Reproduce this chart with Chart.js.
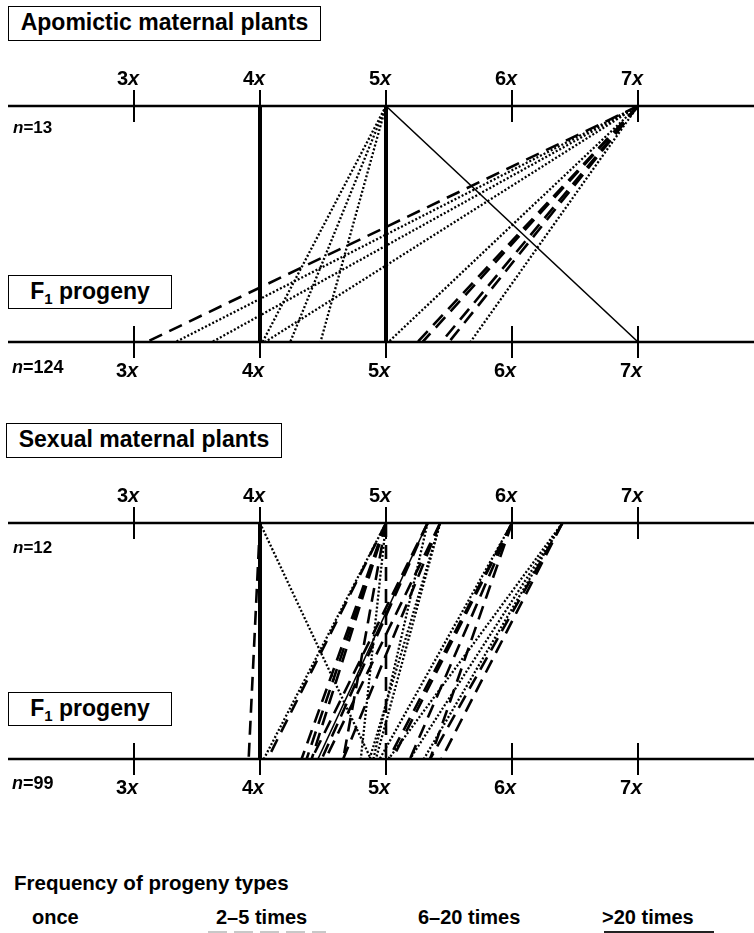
<!DOCTYPE html>
<html><head><meta charset="utf-8">
<script src="https://cdn.jsdelivr.net/npm/chart.js@4/dist/chart.umd.min.js"></script>
<style>
html,body{margin:0;padding:0;background:#fff;}
#page{position:relative;width:754px;height:933px;overflow:hidden;background:#fff;font-family:"Liberation Sans",Arial,sans-serif;font-weight:bold;color:#000;}
.cw{position:absolute;left:0;width:754px;height:400px;}
.box{position:absolute;border:1.5px solid #000;box-sizing:border-box;background:#fff;font-size:23px;line-height:30px;text-align:center;white-space:nowrap;}
.t{position:absolute;white-space:nowrap;line-height:20px;}
sub{font-size:15px;line-height:0;vertical-align:-5px;}
</style></head>
<body><div id="page">
<div class="cw" style="top:0px;"><canvas id="c1" width="754" height="400"></canvas></div>
<div class="cw" style="top:417px;"><canvas id="c2" width="754" height="400"></canvas></div>

<div class="box" style="left:8px;top:6px;width:313px;height:35px;">Apomictic maternal plants</div>
<div class="box" style="left:8px;top:275px;width:164px;height:34px;">F<sub>1</sub> progeny</div>
<div class="box" style="left:6px;top:423px;width:276px;height:35px;">Sexual maternal plants</div>
<div class="box" style="left:8px;top:692px;width:164px;height:34px;">F<sub>1</sub> progeny</div>

<div class="t" style="left:13px;top:118px;font-size:17px;"><i>n</i>=13</div>
<div class="t" style="left:12px;top:357px;font-size:18px;"><i>n</i>=124</div>
<div class="t" style="left:13px;top:538px;font-size:17px;"><i>n</i>=12</div>
<div class="t" style="left:12px;top:773px;font-size:18px;"><i>n</i>=99</div>

<div class="t" style="left:14px;top:873px;font-size:20.5px;">Frequency of progeny types</div>
<div class="t" style="left:32px;top:907px;font-size:20px;">once</div>
<div class="t" style="left:216px;top:907px;font-size:20px;">2–5 times</div>
<div class="t" style="left:418px;top:907px;font-size:20px;">6–20 times</div>
<div class="t" style="left:602px;top:907px;font-size:20px;">&gt;20 times</div>
<div style="position:absolute;left:208px;top:931px;width:118px;height:2px;background:repeating-linear-gradient(to right,#c8c8c8 0 19px,transparent 19px 26px);"></div>
<div style="position:absolute;left:604px;top:931px;width:110px;height:2px;background:#222;"></div>
</div>
<script>
// ---- data ----
const ploidyTicks = [3, 4, 5, 6, 7];
const tickLabels = ['3x', '4x', '5x', '6x', '7x'];

// Apomictic maternal plants -> F1 progeny
const apoMaternal = [4, 5, 5, 5, 5, 5, 7, 7, 7, 7, 7, 7, 7, 7, 7, 7];
const apoProgeny  = [4, 5, 7, 4.02, 4.24, 4.48, 3.10, 3.33, 3.62, 4.04, 5.02, 5.25, 5.29, 5.44, 5.50, 5.67];
const apoFrequency = ['>20', '>20', '6–20', 'once', 'once', 'once', '2–5', 'once', 'once', 'once', 'once', '2–5', '2–5', '2–5', '2–5', 'once'];

// Sexual maternal plants -> F1 progeny
const sexMaternal = [4, 4, 4, 5, 5, 5, 5, 5, 5, 5, 5, 5.33, 5.33, 5.33, 5.33, 5.43, 5.43, 5.43, 5.43, 6, 6, 6, 6, 6, 6.4, 6.4, 6.4, 6.4, 6.4];
const sexProgeny  = [4, 3.91, 4.88, 5, 4.03, 4.06, 4.33, 4.37, 4.41, 4.66, 4.80, 4.46, 4.41, 4.49, 4.90, 4.52, 4.66, 4.92, 4.87, 5.02, 5.05, 5.19, 5.35, 4.95, 5.02, 5.19, 5.30, 5.35, 5.44];
const sexFrequency = ['>20', '2–5', 'once', '2–5', 'once', '2–5', '2–5', '2–5', '2–5', '2–5', 'once', '6–20', '2–5', '2–5', 'once', '2–5', '2–5', 'once', 'once', '2–5', '2–5', '2–5', '2–5', 'once', 'once', 'once', 'once', '2–5', '2–5'];

// ---- styles ----
const freqStyle = {
  'once': { borderWidth: 2.3, borderDash: [2, 2], order: 3 },
  '2–5':  { borderWidth: 2.6, borderDash: [14, 8], order: 2 },
  '6–20': { borderWidth: 1.6, borderDash: [], order: 1 },
  '>20':  { borderWidth: 4, borderDash: [], order: 0 }
};

function makeDatasets(mat, prog, freq) {
  return mat.map((m, i) => {
    const s = freqStyle[freq[i]];
    return {
      label: freq[i],
      data: [{ x: m, y: 1 }, { x: prog[i], y: 0 }],
      showLine: true,
      borderColor: '#000',
      backgroundColor: '#000',
      borderWidth: s.borderWidth,
      borderDash: s.borderDash,
      borderCapStyle: 'butt',
      pointRadius: 0,
      pointHoverRadius: 0,
      fill: false,
      tension: 0,
      clip: false,
      order: s.order
    };
  });
}

function drawLabel(ctx, label, cx, cy) {
  const num = label.slice(0, -1), v = label.slice(-1);
  const f1 = 'bold 20px "Liberation Sans", Arial, sans-serif';
  const f2 = 'italic bold 20px "Liberation Sans", Arial, sans-serif';
  ctx.font = f1; const w1 = ctx.measureText(num).width;
  ctx.font = f2; const w2 = ctx.measureText(v).width;
  const x0 = cx - (w1 + w2) / 2;
  ctx.textBaseline = 'middle';
  ctx.textAlign = 'left';
  ctx.fillStyle = '#000';
  ctx.font = f1; ctx.fillText(num, x0, cy);
  ctx.font = f2; ctx.fillText(v, x0 + w1, cy);
}

const axisPlugin = {
  id: 'ploidyAxes',
  afterDatasetsDraw(chart) {
    const { ctx } = chart;
    const xs = chart.scales.x, ys = chart.scales.y;
    const yTop = ys.getPixelForValue(1), yBot = ys.getPixelForValue(0);
    ctx.save();
    ctx.strokeStyle = '#000';
    ctx.setLineDash([]);
    ctx.lineWidth = 2.6;
    [yTop, yBot].forEach(y => {
      ctx.beginPath(); ctx.moveTo(xs.left, y); ctx.lineTo(chart.width, y); ctx.stroke();
    });
    ctx.lineWidth = 2;
    ploidyTicks.forEach((t, i) => {
      const px = xs.getPixelForValue(t);
      [yTop, yBot].forEach(y => {
        ctx.beginPath(); ctx.moveTo(px, y - 16); ctx.lineTo(px, y + 16); ctx.stroke();
      });
      drawLabel(ctx, tickLabels[i], px - 6, yTop - 27);
      drawLabel(ctx, tickLabels[i], px - 7, yBot + 29);
    });
    ctx.restore();
  }
};

function makeChart(id, mat, prog, freq) {
  return new Chart(document.getElementById(id), {
    type: 'scatter',
    data: { datasets: makeDatasets(mat, prog, freq) },
    options: {
      responsive: false,
      animation: false,
      devicePixelRatio: 1,
      layout: { padding: { left: 8, right: 0, top: 106, bottom: 58 } },
      scales: {
        x: { type: 'linear', min: 2, max: 7.9206, display: false },
        y: { type: 'linear', min: 0, max: 1, display: false }
      },
      plugins: { legend: { display: false }, tooltip: { enabled: false } },
      events: []
    },
    plugins: [axisPlugin]
  });
}

makeChart('c1', apoMaternal, apoProgeny, apoFrequency);
makeChart('c2', sexMaternal, sexProgeny, sexFrequency);
</script>
</body></html>
